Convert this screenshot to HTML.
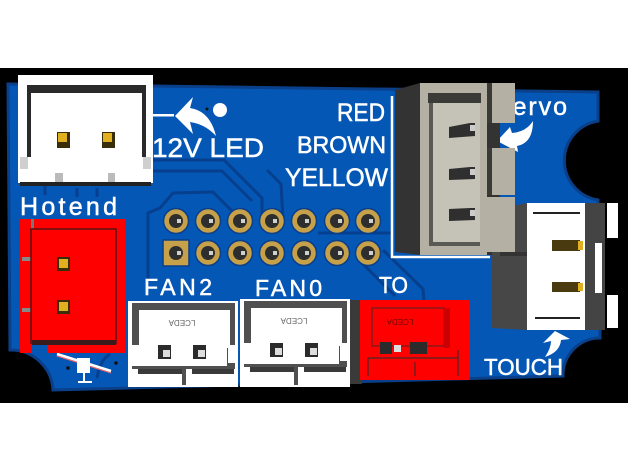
<!DOCTYPE html>
<html><head><meta charset="utf-8">
<style>html,body{margin:0;padding:0;background:#fff;}svg{display:block}</style></head>
<body>
<svg width="628" height="472" viewBox="0 0 628 472" xmlns="http://www.w3.org/2000/svg">
<rect width="628" height="472" fill="#fff"/>
<rect y="68" width="628" height="335" fill="#000"/>

<!-- board -->
<path d="M8,84 L598,92 L598,121 A40,40 0 0 0 598,200 L600,338 A37,37 0 0 0 563,376 L53,390 A42,42 0 0 0 10,350 Z" fill="#0557b5" stroke="#0a3f8a" stroke-width="3"/>

<!-- traces -->
<g fill="none" stroke="#063f8e" stroke-width="3" stroke-linejoin="round">
  <path d="M152,160 L224,160 L262,198 L262,220"/>
  <path d="M152,171 L222,171 L252,201"/>
  <path d="M148,282 L148,213 L160,208 L173,193 L213,192 L233,212"/>
  <path d="M267,170 L281,184 L283,220"/>
  <path d="M318,233 L392,233"/>
  <path d="M357,258 L395,296"/>
  <path d="M383,250 L423,289 L424,300"/>
  <path d="M77,188 L77,197 M97,188 L97,197 M45,180 L45,195"/>
  <path d="M97,378 Q100,360 110,354"/>
</g>

<!-- silkscreen text -->
<g font-family="Liberation Sans, DejaVu Sans, sans-serif" fill="#fff" stroke="#fff" stroke-width="0.5" lengthAdjust="spacingAndGlyphs">
  <text x="152" y="157" font-size="27" textLength="112" lengthAdjust="spacingAndGlyphs">12V LED</text>
  <text x="20" y="215" font-size="25" textLength="97">Hotend</text>
  <text x="337" y="121" font-size="25" textLength="48" lengthAdjust="spacingAndGlyphs">RED</text>
  <text x="297" y="153" font-size="24" textLength="89" lengthAdjust="spacingAndGlyphs">BROWN</text>
  <text x="285" y="186" font-size="25" textLength="103" lengthAdjust="spacingAndGlyphs">YELLOW</text>
  <text x="494" y="115" font-size="25" textLength="73">Servo</text>
  <text x="144" y="295" font-size="23" textLength="68">FAN2</text>
  <text x="255" y="296" font-size="23" textLength="67">FAN0</text>
  <text x="379" y="293" font-size="23" textLength="29" lengthAdjust="spacingAndGlyphs">TO</text>
  <text x="484" y="375" font-size="23" textLength="79" lengthAdjust="spacingAndGlyphs">TOUCH</text>
</g>

<!-- 12V LED arrow -->
<rect x="153" y="114" width="21" height="2.5" fill="#fff"/>
<path d="M175,116 L193,97 L190,108 Q210,111 216,136 Q205,124 190,122 L193,134 Z" fill="#fff"/>
<circle cx="220" cy="110" r="7" fill="#fff"/>
<circle cx="207" cy="109" r="1.5" fill="#111"/>

<!-- header 2x7 -->
<g>
  <g fill="#c7a04a" stroke="#0a3f8a" stroke-width="1.5">
    <circle cx="176" cy="221" r="12.5"/><circle cx="208" cy="221" r="12.5"/><circle cx="240" cy="221" r="12.5"/><circle cx="272" cy="221" r="12.5"/><circle cx="304" cy="221" r="12.5"/><circle cx="337" cy="221" r="12.5"/><circle cx="368" cy="221" r="12.5"/>
    <rect x="163" y="240" width="26" height="26"/>
    <circle cx="208" cy="253" r="12.5"/><circle cx="240" cy="253" r="12.5"/><circle cx="272" cy="253" r="12.5"/><circle cx="304" cy="253" r="12.5"/><circle cx="337" cy="253" r="12.5"/><circle cx="368" cy="253" r="12.5"/>
  </g>
  <g fill="#2e2e2e">
    <circle cx="176" cy="221" r="7"/><circle cx="208" cy="221" r="7"/><circle cx="240" cy="221" r="7"/><circle cx="272" cy="221" r="7"/><circle cx="304" cy="221" r="7"/><circle cx="337" cy="221" r="7"/><circle cx="368" cy="221" r="7"/>
    <circle cx="176" cy="253" r="7"/><circle cx="208" cy="253" r="7"/><circle cx="240" cy="253" r="7"/><circle cx="272" cy="253" r="7"/><circle cx="304" cy="253" r="7"/><circle cx="337" cy="253" r="7"/><circle cx="368" cy="253" r="7"/>
  </g>
  <g fill="#d0d0d0">
    <rect x="177" y="219" width="4" height="4"/><rect x="209" y="219" width="4" height="4"/><rect x="241" y="219" width="4" height="4"/><rect x="273" y="219" width="4" height="4"/><rect x="305" y="219" width="4" height="4"/><rect x="338" y="219" width="4" height="4"/><rect x="369" y="219" width="4" height="4"/>
    <rect x="177" y="251" width="4" height="4"/><rect x="209" y="251" width="4" height="4"/><rect x="241" y="251" width="4" height="4"/><rect x="273" y="251" width="4" height="4"/><rect x="305" y="251" width="4" height="4"/><rect x="338" y="251" width="4" height="4"/><rect x="369" y="251" width="4" height="4"/>
  </g>
</g>

<!-- top-left white connector (12V LED) -->
<rect x="18" y="75" width="135" height="108" fill="#fff"/>
<rect x="27" y="85" width="119" height="8" fill="#2a2a2a"/>
<rect x="27" y="85" width="4" height="72" fill="#2a2a2a"/>
<rect x="142" y="85" width="4" height="72" fill="#2a2a2a"/>
<rect x="20" y="157" width="8" height="12" fill="#cfcfcf"/>
<rect x="143" y="157" width="8" height="12" fill="#cfcfcf"/>
<rect x="55" y="173" width="8" height="9" fill="#bbb"/>
<rect x="108" y="173" width="7" height="9" fill="#bbb"/>
<rect x="20" y="182" width="131" height="4" fill="#222"/>
<rect x="57" y="132" width="13" height="16" fill="#3a2e0a"/>
<rect x="58" y="133" width="9" height="9" fill="#e0b020"/>
<rect x="102" y="132" width="13" height="16" fill="#3a2e0a"/>
<rect x="103" y="133" width="9" height="9" fill="#e0b020"/>

<!-- Hotend red connector -->
<rect x="20" y="219" width="105" height="126" fill="#ff0000"/>
<rect x="20" y="345" width="11" height="8" fill="#ff0000"/>
<rect x="47" y="345" width="78" height="8" fill="#ff0000"/>
<rect x="31" y="219" width="3" height="10" fill="#777"/>
<rect x="22" y="257" width="9" height="4" fill="#888"/>
<rect x="22" y="308" width="9" height="4" fill="#888"/>
<rect x="31" y="229" width="85" height="114" fill="none" stroke="#5a1010" stroke-width="1.5"/>
<rect x="32" y="340" width="84" height="5" fill="#3a1a1a"/>
<rect x="57" y="257" width="13" height="14" fill="#3a2e0a"/>
<rect x="59" y="259" width="9" height="9" fill="#e0b020"/>
<rect x="57" y="300" width="13" height="14" fill="#3a2e0a"/>
<rect x="59" y="302" width="9" height="9" fill="#e0b020"/>

<!-- LED symbol bottom-left -->
<path d="M57,354 L111,371" stroke="#fff" stroke-width="2.5"/>
<path d="M57,356 L111,373" stroke="#f66" stroke-width="1"/>
<rect x="77" y="358" width="13" height="15" fill="#fff"/>
<rect x="83" y="373" width="2" height="8" fill="#fff"/>
<rect x="78" y="381" width="14" height="2" fill="#fff"/>
<circle cx="68" cy="368" r="1.8" fill="#111"/>
<circle cx="116" cy="363" r="1.8" fill="#111"/>

<!-- FAN2 / FAN0 white connectors -->
<g transform="translate(128,301)">
  <rect x="0" y="0" width="110" height="86" fill="#fff"/>
  <rect x="4" y="2" width="103" height="82" fill="#505050"/>
  <rect x="11" y="9" width="91" height="38" fill="#fff"/>
  <rect x="1" y="44" width="98" height="21" fill="#fff"/>
  <rect x="100" y="44" width="10" height="18" fill="#fff"/>
  <rect x="4" y="68" width="50" height="17" fill="#fff"/>
  <rect x="10" y="68" width="44" height="5" fill="#3a3a3a"/>
  <rect x="58" y="68" width="50" height="17" fill="#fff"/>
  <rect x="64" y="68" width="42" height="5" fill="#3a3a3a"/>
  <rect x="30" y="44" width="13" height="14" fill="#2b2b2b"/><rect x="35" y="49" width="7" height="7" fill="#ddd"/>
  <rect x="65" y="44" width="13" height="14" fill="#2b2b2b"/><rect x="70" y="49" width="7" height="7" fill="#ddd"/>
  <text transform="translate(54,19) rotate(180)" font-family="Liberation Sans, sans-serif" font-size="8" fill="#666" text-anchor="middle">LCEDA</text>
</g>
<g transform="translate(240,299)">
  <rect x="0" y="0" width="110" height="88" fill="#fff"/>
  <rect x="4" y="2" width="103" height="84" fill="#505050"/>
  <rect x="11" y="9" width="91" height="38" fill="#fff"/>
  <rect x="1" y="44" width="98" height="21" fill="#fff"/>
  <rect x="100" y="44" width="10" height="18" fill="#fff"/>
  <rect x="4" y="68" width="50" height="18" fill="#fff"/>
  <rect x="10" y="68" width="44" height="5" fill="#3a3a3a"/>
  <rect x="58" y="68" width="50" height="18" fill="#fff"/>
  <rect x="64" y="68" width="42" height="5" fill="#3a3a3a"/>
  <rect x="30" y="44" width="13" height="14" fill="#2b2b2b"/><rect x="35" y="49" width="7" height="7" fill="#ddd"/>
  <rect x="65" y="44" width="13" height="14" fill="#2b2b2b"/><rect x="70" y="49" width="7" height="7" fill="#ddd"/>
  <text transform="translate(54,19) rotate(180)" font-family="Liberation Sans, sans-serif" font-size="8" fill="#666" text-anchor="middle">LCEDA</text>
</g>
<rect x="350" y="300" width="12" height="84" fill="#3a3a3a"/>

<!-- TO red connector -->
<g transform="translate(360,300)">
  <rect x="0" y="0" width="110" height="80" fill="#ff0000"/>
  <rect x="12" y="8" width="72" height="38" fill="none" stroke="#6a2020" stroke-width="1.2"/>
  <rect x="84" y="8" width="6" height="40" fill="#c00"/>
  <rect x="20" y="42" width="12" height="12" fill="#2b2b2b"/><rect x="34" y="45" width="7" height="7" fill="#ddd"/>
  <rect x="50" y="42" width="17" height="12" fill="#2b2b2b"/>
  <path d="M8,58 L98,58 M8,58 L8,76 M55,62 L55,76 M98,50 L98,76" stroke="#6a2020" stroke-width="1.5" fill="none"/>
  <text transform="translate(40,19) rotate(180)" font-family="Liberation Sans, sans-serif" font-size="8" fill="#700" text-anchor="middle">LCEDA</text>
</g>

<!-- servo white outline -->
<path d="M392,96 L392,257 L490,257" stroke="#fff" stroke-width="2.5" fill="none"/>

<!-- Servo arrow -->
<path d="M497,141 L510,127 L512,133 Q526,132 533,121 Q533,143 517,146 L518,152 Z" fill="#fff"/>

<!-- Servo grey connector -->
<path d="M395,90 L420,83 L420,255 L395,252 Z" fill="#333"/>
<rect x="420" y="83" width="67" height="172" fill="#b4b0a4"/>
<rect x="428" y="93" width="53" height="10" fill="#3a3a36"/>
<rect x="429" y="103" width="51" height="142" fill="#c5c2b7"/>
<rect x="429" y="103" width="4" height="142" fill="#5a5a55"/>
<rect x="429" y="242" width="51" height="4" fill="#5a5a55"/>
<path d="M449,127 L470,123 L475,123 L475,136 L449,138 Z" fill="#2f2f2f"/><rect x="470" y="125" width="5" height="6" fill="#ccc"/>
<path d="M449,169 L470,167 L475,167 L475,179 L449,180 Z" fill="#2f2f2f"/><rect x="470" y="169" width="5" height="6" fill="#ccc"/>
<path d="M449,209 L470,208 L475,208 L475,220 L449,221 Z" fill="#2f2f2f"/><rect x="470" y="210" width="5" height="6" fill="#ccc"/>
<rect x="487" y="83" width="28" height="40" fill="#b4b0a4"/>
<rect x="487" y="83" width="5" height="40" fill="#3a3a36"/>
<rect x="487" y="123" width="13" height="25" fill="#333"/>
<rect x="487" y="148" width="28" height="47" fill="#b4b0a4"/>
<rect x="487" y="148" width="5" height="47" fill="#3a3a36"/>
<rect x="487" y="195" width="13" height="60" fill="#333"/>

<!-- right white connector (TOUCH) -->
<path d="M492,210 L527,203 L527,330 L492,328 Z" fill="#474747"/>
<rect x="487" y="197" width="28" height="55" fill="#b4b0a4"/>
<rect x="500" y="252" width="27" height="4" fill="#333"/>
<rect x="527" y="203" width="58" height="127" fill="#fff"/>
<rect x="533" y="212" width="47" height="2" fill="#222"/>
<rect x="535" y="317" width="45" height="2" fill="#222"/>
<rect x="585" y="203" width="20" height="127" fill="#444"/>
<rect x="595" y="243" width="7" height="50" fill="#fff"/>
<rect x="607" y="203" width="11" height="35" fill="#fff"/>
<rect x="607" y="295" width="11" height="33" fill="#fff"/>
<rect x="552" y="240" width="28" height="11" fill="#4a3a10"/>
<rect x="578" y="241" width="5" height="9" fill="#e0b020"/>
<rect x="552" y="282" width="28" height="10" fill="#4a3a10"/>
<rect x="578" y="283" width="5" height="8" fill="#e0b020"/>

<!-- TOUCH arrow -->
<path d="M555,331 L570,339 L561,340 Q560,352 545,357 Q551,348 551,341 L543,343 Z" fill="#fff"/>
</svg>
</body></html>
